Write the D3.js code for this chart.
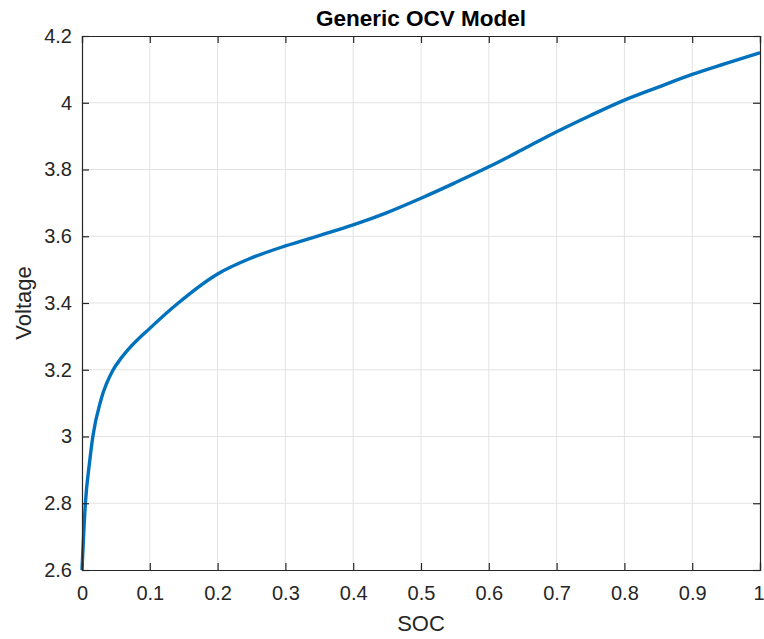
<!DOCTYPE html>
<html>
<head>
<meta charset="utf-8">
<script src="https://cdn.jsdelivr.net/npm/d3@7/dist/d3.min.js"></script>
<style>
  html, body { margin: 0; padding: 0; background: #fff; }
  svg { display: block; }
  text { font-family: "Liberation Sans", Arial, Helvetica, sans-serif; }
</style>
</head>
<body>
<svg id="chart" width="764" height="639"></svg>
<script>
// Open-circuit voltage as a function of state of charge
const soc = [0, 0.005, 0.011, 0.016, 0.028, 0.046, 0.056, 0.068, 0.1, 0.142,
             0.2, 0.25, 0.3, 0.35, 0.4, 0.45, 0.5, 0.55, 0.6, 0.65,
             0.7, 0.75, 0.8, 0.85, 0.9, 0.95, 1.0];
const voltage = [2.6, 2.8, 2.92, 3.0, 3.11, 3.2, 3.23, 3.26, 3.324, 3.4,
                 3.487, 3.535, 3.571, 3.602, 3.634, 3.671, 3.714, 3.76, 3.808, 3.86,
                 3.913, 3.962, 4.008, 4.047, 4.085, 4.118, 4.15];

const xTicks = [0, 0.1, 0.2, 0.3, 0.4, 0.5, 0.6, 0.7, 0.8, 0.9, 1];
const yTicks = [2.6, 2.8, 3, 3.2, 3.4, 3.6, 3.8, 4, 4.2];

const titleText = "Generic OCV Model";
const xLabel = "SOC";
const yLabel = "Voltage";

const margin = { left: 82, right: 4, top: 36, bottom: 69 };
const W = 764, H = 639;
const innerW = W - margin.left - margin.right;
const innerH = H - margin.top - margin.bottom;

const axisColor = "#262626";
const gridColor = "#e3e3e3";
const lineColor = "#0072BD";
const tickLen = 7;

const svg = d3.select("#chart");
const g = svg.append("g").attr("transform", `translate(${margin.left},${margin.top})`);

const x = d3.scaleLinear().domain([0, 1]).range([0, innerW]);
const y = d3.scaleLinear().domain([2.6, 4.2]).range([innerH, 0]);

// grid lines
g.append("g").selectAll("line").data(xTicks.slice(1, -1)).join("line")
  .attr("x1", d => x(d)).attr("x2", d => x(d))
  .attr("y1", 0).attr("y2", innerH)
  .attr("stroke", gridColor).attr("stroke-width", 1);
g.append("g").selectAll("line").data(yTicks.slice(1, -1)).join("line")
  .attr("x1", 0).attr("x2", innerW)
  .attr("y1", d => y(d)).attr("y2", d => y(d))
  .attr("stroke", gridColor).attr("stroke-width", 1);

// data line
const pts = soc.map((s, i) => [s, voltage[i]]);
const line = d3.line()
  .x(d => x(d[0]))
  .y(d => y(d[1]))
  .curve(d3.curveMonotoneX);

g.append("path")
  .datum(pts)
  .attr("fill", "none")
  .attr("stroke", lineColor)
  .attr("stroke-width", 3.4)
  .attr("stroke-linejoin", "round")
  .attr("d", line);

// axes with inward ticks on all four sides
const fmt = d => String(+d.toFixed(2));
const xAxisB = d3.axisBottom(x).tickValues(xTicks).tickSize(-tickLen).tickPadding(16).tickFormat(fmt);
const xAxisT = d3.axisTop(x).tickValues(xTicks).tickSize(-tickLen).tickFormat("");
const yAxisL = d3.axisLeft(y).tickValues(yTicks).tickSize(-tickLen).tickPadding(10).tickFormat(fmt);
const yAxisR = d3.axisRight(y).tickValues(yTicks).tickSize(-tickLen).tickFormat("");

function style(sel) {
  sel.select(".domain").attr("stroke", axisColor).attr("stroke-width", 1.2);
  sel.selectAll(".tick line").attr("stroke", axisColor).attr("stroke-width", 1.2);
  sel.selectAll(".tick text")
    .attr("fill", axisColor)
    .attr("font-size", "20px")
    .attr("font-family", "'Liberation Sans', Arial, Helvetica, sans-serif");
}

const gx = g.append("g").attr("transform", `translate(0,${innerH})`).call(xAxisB).call(style);
g.append("g").call(xAxisT).call(style);
g.append("g").call(yAxisL).call(style);
g.append("g").attr("transform", `translate(${innerW},0)`).call(yAxisR).call(style);

// keep the last x tick label inside the canvas
gx.selectAll(".tick text").filter(d => d === xTicks[xTicks.length - 1])
  .attr("text-anchor", "end")
  .attr("x", margin.right);

// title and axis labels
svg.append("text")
  .attr("x", margin.left + innerW / 2)
  .attr("y", 26)
  .attr("text-anchor", "middle")
  .attr("font-size", "22.5px")
  .attr("font-weight", "bold")
  .attr("fill", "#000")
  .text(titleText);

svg.append("text")
  .attr("x", margin.left + innerW / 2)
  .attr("y", 631)
  .attr("text-anchor", "middle")
  .attr("font-size", "22px")
  .attr("fill", axisColor)
  .text(xLabel);

svg.append("text")
  .attr("transform", `translate(31,${margin.top + innerH / 2}) rotate(-90)`)
  .attr("text-anchor", "middle")
  .attr("font-size", "22px")
  .attr("fill", axisColor)
  .text(yLabel);
</script>
</body>
</html>
